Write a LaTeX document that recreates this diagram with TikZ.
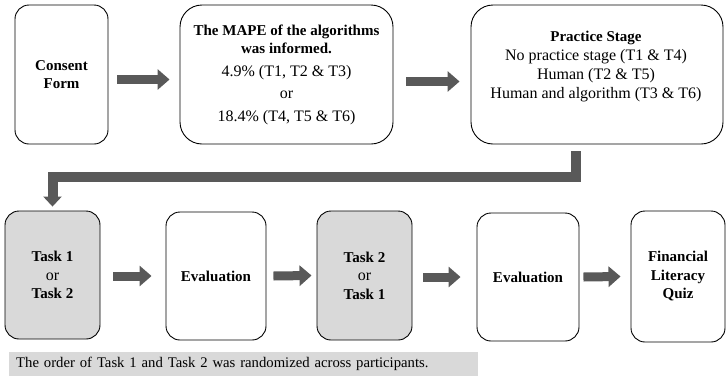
\documentclass[tikz,border=0pt]{standalone}
\usepackage{fontspec}
\setmainfont{Liberation Serif}
\usetikzlibrary{arrows.meta}
\definecolor{arrowgray}{HTML}{595959}
\definecolor{boxgray}{HTML}{D9D9D9}
\newcommand{\bt}[1]{{\fontsize{15}{18.5}\selectfont\bfseries #1}}
\tikzset{
  box/.style={draw=black, line width=0.9pt, align=center, inner sep=2pt,
    font=\fontsize{16}{18.5}\selectfont},
  smallbox/.style={box, rounded corners=14pt},
  bigbox/.style={box, rounded corners=22pt},
  grayfill/.style={fill=boxgray},
  blockarrow/.style={draw=arrowgray, line width=9pt,
    -{Triangle[width=20pt,length=12pt]}},
  bentarrow/.style={draw=arrowgray, line width=10pt, line join=miter,
    -{Triangle[width=18pt,length=10pt]}},
}
\begin{document}
\begin{tikzpicture}[x=1pt,y=-1pt]
\useasboundingbox (0,0) rectangle (727,378);

% top row
\node[smallbox, minimum width=93pt, minimum height=139pt] (consent) at (61.5,74.5)
  {\bt{Consent}\\\bt{Form}};
\node[bigbox, minimum width=213pt, minimum height=139pt] (mape) at (286.5,74.5)
  {\bt{The MAPE of the algorithms}\\\bt{was informed.}\\[4pt]
   4.9\% (T1, T2 \& T3)\\[4pt] or\\[4pt] 18.4\% (T4, T5 \& T6)};
\node[bigbox, minimum width=252pt, minimum height=139pt] (practice) at (597,74.5) {};
\node[align=center, inner sep=0pt, font=\fontsize{16}{19}\selectfont] (practicetext) at (596,67)
  {\bt{Practice Stage}\\No practice stage (T1 \& T4)\\Human (T2 \& T5)\\Human and algorithm (T3 \& T6)};

% bottom row
\node[smallbox, grayfill, minimum width=95pt, minimum height=128pt] (taskA) at (52.5,275)
  {\bt{Task 1}\\or\\\bt{Task 2}};
\node[smallbox, minimum width=100pt, minimum height=128pt] (evalA) at (216,276)
  {\bt{Evaluation}};
\node[smallbox, grayfill, minimum width=95pt, minimum height=129pt] (taskB) at (364.5,275.5)
  {\bt{Task 2}\\or\\\bt{Task 1}};
\node[smallbox, minimum width=102pt, minimum height=128pt] (evalB) at (528,277)
  {\bt{Evaluation}};
\node[smallbox, minimum width=94pt, minimum height=131pt] (quiz) at (678,276.5)
  {\bt{Financial}\\\bt{Literacy}\\\bt{Quiz}};

% note bar
\node[fill=boxgray, anchor=west, minimum width=469pt, minimum height=24pt,
  inner xsep=7pt, text width=455pt, font=\fontsize{14.7}{18}\selectfont] (note) at (9,364)
  {The order of Task 1 and Task 2 was randomized across participants.};

% arrows
\draw[blockarrow] ([xshift=9pt,yshift=-5pt]consent.east) -- ([xshift=-10pt,yshift=-5pt]mape.west);
\draw[blockarrow] ([xshift=13pt,yshift=-7pt]mape.east) -- ([xshift=-11pt,yshift=-7pt]practice.west);
\draw[bentarrow] ([xshift=-21pt,yshift=-7pt]practice.south) -- ++(0,26) -| ([yshift=4pt]taskA.north);
\draw[blockarrow] ([xshift=13pt,yshift=-1pt]taskA.east) -- ([xshift=-14pt]evalA.west);
\draw[blockarrow] ([xshift=7pt]evalA.east) -- ([xshift=-5pt]taskB.west);
\draw[blockarrow] ([xshift=11pt,yshift=-1.5pt]taskB.east) -- ([xshift=-16pt]evalB.west);
\draw[blockarrow] ([xshift=4pt]evalB.east) -- ([xshift=-10pt]quiz.west);
\end{tikzpicture}
\end{document}
